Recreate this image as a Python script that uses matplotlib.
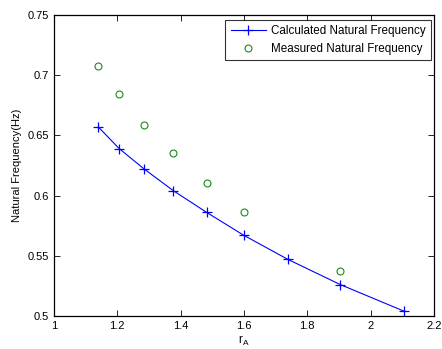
import numpy as np
import matplotlib
matplotlib.use('Agg')
import matplotlib.pyplot as plt

plt.rcParams['font.family'] = ['Liberation Sans', 'DejaVu Sans']

# calculated natural frequency
r_calc = [1.14, 1.206, 1.285, 1.377, 1.482, 1.599, 1.738, 1.904, 2.104]
f_calc = [0.657, 0.639, 0.622, 0.604, 0.586, 0.567, 0.547, 0.526, 0.504]

# measured natural frequency
r_meas = [1.14, 1.206, 1.285, 1.377, 1.482, 1.599, 1.904]
f_meas = [0.708, 0.684, 0.659, 0.635, 0.610, 0.586, 0.537]

xticks = [1, 1.2, 1.4, 1.6, 1.8, 2, 2.2]
xticklabels = ['1', '1.2', '1.4', '1.6', '1.8', '2', '2.2']
yticks = [0.5, 0.55, 0.6, 0.65, 0.7, 0.75]
yticklabels = ['0.5', '0.55', '0.6', '0.65', '0.7', '0.75']

fig = plt.figure(figsize=(4.42, 3.49), dpi=100)
ax = fig.add_axes([0.122, 0.095, 0.86, 0.862])

ax.plot(r_calc, f_calc, color='#0000ff', lw=0.8, marker='+', ms=6.5, mew=0.9,
        label='Calculated Natural Frequency')
ax.plot(r_meas, f_meas, ls='none', marker='o', ms=5, mfc='none', mec='#1a8c1a',
        mew=0.8, label='Measured Natural Frequency')

ax.set_xlim(1, 2.2)
ax.set_ylim(0.5, 0.75)
ax.set_xticks(xticks)
ax.set_xticklabels(xticklabels)
ax.set_yticks(yticks)
ax.set_yticklabels(yticklabels)
ax.tick_params(direction='in', top=True, right=True, labelsize=8, length=4, width=0.6)
for s in ax.spines.values():
    s.set_linewidth(0.9)

ax.set_xlabel('r$_\\mathregular{A}$', fontsize=8.5, labelpad=2)
ax.set_ylabel('Natural Frequency(Hz)', fontsize=8, labelpad=4)

leg = ax.legend(loc='upper right', bbox_to_anchor=(0.993, 0.985), fontsize=8.4,
                frameon=True, fancybox=False, edgecolor='black',
                handlelength=3.0, borderaxespad=0, borderpad=0.45,
                labelspacing=0.5, handletextpad=0.5)
leg.get_frame().set_linewidth(0.8)

fig.savefig('out.png', dpi=100)
